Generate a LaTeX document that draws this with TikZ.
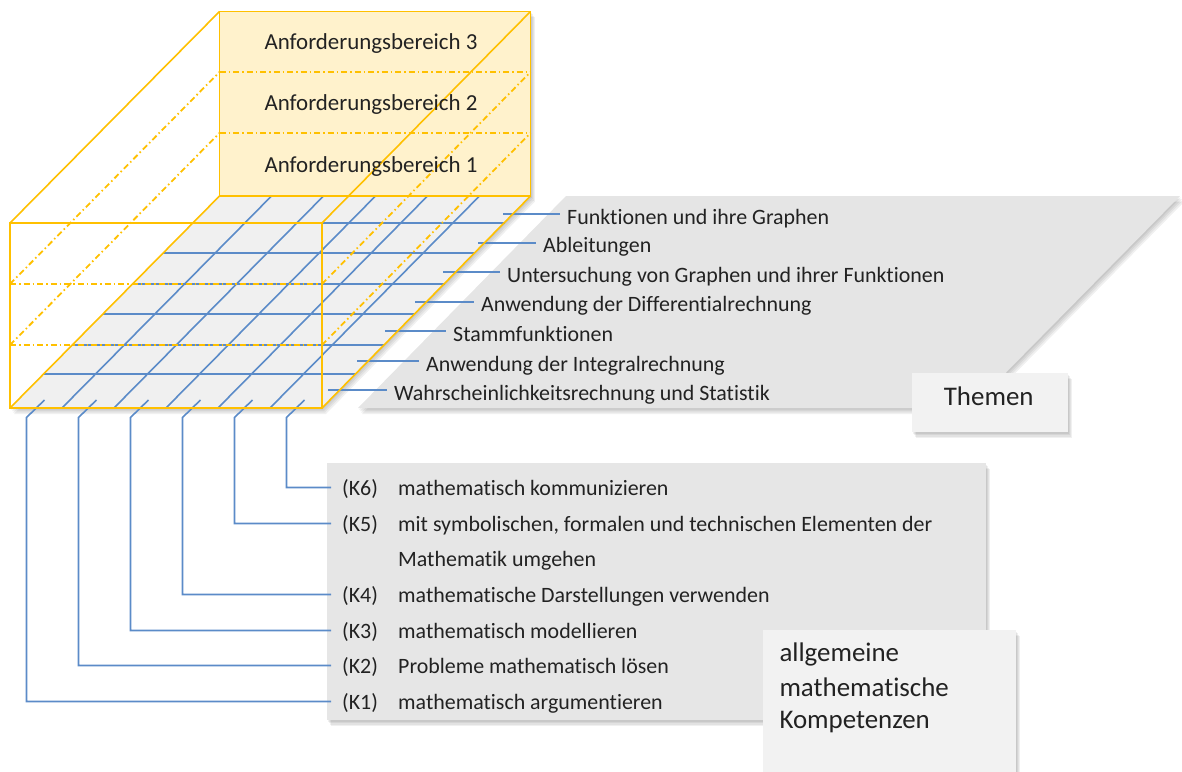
\documentclass[tikz,border=0pt]{standalone}
\usepackage{fontspec}
\setmainfont{Carlito}[Ligatures={NoCommon,NoRare,NoContextual}]
\usetikzlibrary{shadows,calc}
\definecolor{gold}{HTML}{FFC000}
\definecolor{paleyellow}{HTML}{FFF2CC}
\definecolor{gridblue}{HTML}{5B8BC8}
\definecolor{planegray}{HTML}{E5E5E5}
\definecolor{floorgray}{HTML}{F0F0F0}
\definecolor{boxgray}{HTML}{F2F2F2}
\definecolor{kgray}{HTML}{E6E6E6}
\definecolor{txt}{HTML}{222222}
\begin{document}
\begin{tikzpicture}[x=1bp,y=-1bp,
  soft/.style={
    general shadow={fill=black,opacity=.06,shadow xshift=1bp,shadow yshift=-1.5bp},
    general shadow={fill=black,opacity=.06,shadow xshift=2bp,shadow yshift=-3bp},
    general shadow={fill=black,opacity=.06,shadow xshift=3bp,shadow yshift=-4.5bp},
    general shadow={fill=black,opacity=.06,shadow xshift=4bp,shadow yshift=-6bp}},
  gridline/.style={draw=gridblue, line width=1.6bp},
  hgridline/.style={draw=gridblue, line width=1.8bp},
  cubeedge/.style={draw=gold, line width=1.6bp},
  frontedge/.style={draw=gold, line width=2bp},
  dashedge/.style={draw=gold, line width=1.8bp, dash pattern=on 6bp off 3bp on 1.5bp off 3bp},
  topic/.style={anchor=base west, inner xsep=7bp, inner ysep=0pt, text=txt, font=\fontsize{22}{26}\selectfont},
  klab/.style={anchor=base west, inner xsep=11bp, inner ysep=0pt, text height=16bp, text depth=1bp, text=txt, font=\fontsize{22}{26}\selectfont},
  kdesc/.style={anchor=base west, inner sep=0pt, text=txt, font=\fontsize{22}{26}\selectfont},
  ablab/.style={anchor=base, inner sep=0pt, text=txt, font=\fontsize{23}{27}\selectfont},
  bigtext/.style={anchor=base west, inner sep=0pt, text=txt, font=\fontsize{27}{33}\selectfont},
  panel/.style={soft, anchor=north west, inner sep=0pt},
]
\useasboundingbox (0,0) rectangle (1182,772);

% ---- topic plane (grey parallelogram)
\fill[planegray, soft] (566,196) -- (1180,196) -- (971,408) -- (358,408) -- cycle;

% ---- panels
\node[panel, fill=kgray, minimum width=659bp, minimum height=257bp] (kbox) at (327,463) {};
\node[panel, fill=boxgray, minimum width=156bp, minimum height=59bp] (themenbox) at (912,373) {};
\node[panel, fill=boxgray, minimum width=253bp, minimum height=160bp] (agbox) at (763,630) {};

% ---- cube corners
\coordinate (FTL) at (10,223);
\coordinate (FTR) at (322,223);
\coordinate (FBL) at (10,408);
\coordinate (FBR) at (322,408);
\coordinate (BTL) at (219.5,11.5);
\coordinate (BTR) at (530.5,11.5);
\coordinate (BBL) at (219.5,196);
\coordinate (BBR) at (530.5,196);
\coordinate (FD1L) at (10,284);
\coordinate (FD1R) at (322,284);
\coordinate (FD2L) at (10,345);
\coordinate (FD2R) at (322,345);
\coordinate (BD1L) at (219.5,72);
\coordinate (BD1R) at (530.5,72);
\coordinate (BD2L) at (219.5,133);
\coordinate (BD2R) at (530.5,133);

% ---- back face
\fill[paleyellow, soft] (BTL) rectangle (BBR);

% ---- floor
\fill[floorgray, soft] (FBL) -- (FBR) -- (BBR) -- (BBL) -- cycle;

% ---- grid on the floor
\foreach \y in {223,253,284,314,345,374}
  \draw[hgridline] ({10+(408-\y)*0.988},\y) -- ({322+(408-\y)*0.988},\y);
\foreach \k in {1,...,5}
  \draw[gridline] ({10+52*\k},408) -- ({219.5+52*\k},196);

% ---- topic labels and leaders
\coordinate (ls1) at (503,214);
\coordinate (ls2) at (478,243);
\coordinate (ls3) at (443,272);
\coordinate (ls4) at (415,302);
\coordinate (ls5) at (385,331);
\coordinate (ls6) at (357,361);
\coordinate (ls7) at (328,390);
\node[topic] (t1) at (560,224) {Funktionen und ihre Graphen};
\node[topic] (t2) at (536,252) {Ableitungen};
\node[topic] (t3) at (500,282) {Untersuchung von Graphen und ihrer Funktionen};
\node[topic] (t4) at (474,311) {Anwendung der Differentialrechnung};
\node[topic] (t5) at (446,341) {Stammfunktionen};
\node[topic] (t6) at (419,371) {Anwendung der Integralrechnung};
\node[topic] (t7) at (387,400) {Wahrscheinlichkeitsrechnung und Statistik};
\foreach \i in {1,...,7}
  \draw[hgridline] (ls\i) -- (ls\i -| t\i.west);

% ---- competence labels
\node[klab] (k6) at (331,495) {(K6)};
\node[klab] (k5) at (331,531) {(K5)};
\node[klab] (k4) at (331,602) {(K4)};
\node[klab] (k3) at (331,638) {(K3)};
\node[klab] (k2) at (331,673) {(K2)};
\node[klab] (k1) at (331,709) {(K1)};
\node[kdesc] (d6) at (398,495) {mathematisch kommunizieren};
\node[kdesc] (d5) at (398,531) {mit symbolischen, formalen und technischen Elementen der};
\node[kdesc] (d5b) at (398,566.5) {Mathematik umgehen};
\node[kdesc] (d4) at (398,602) {mathematische Darstellungen verwenden};
\node[kdesc] (d3) at (398,638) {mathematisch modellieren};
\node[kdesc] (d2) at (398,673) {Probleme mathematisch lösen};
\node[kdesc] (d1) at (398,709) {mathematisch argumentieren};

% ---- competence connectors
\foreach \k in {1,...,6}{
  \coordinate (kt\k) at ({44.5+52*(\k-1)},400);
  \coordinate (kb\k) at ({26.5+52*(\k-1)},417.5);
  \draw[gridline] (kt\k) -- (kb\k) |- (k\k.west);
}

% ---- cube edges
\draw[cubeedge] (BTL) rectangle (BBR);
\draw[cubeedge] (FTL) -- (BTL);
\draw[cubeedge] (FTR) -- (BTR);
\draw[cubeedge] (FBL) -- (BBL);
\draw[cubeedge] (FBR) -- (BBR);
\draw[dashedge] (BD1L) -- (BD1R);
\draw[dashedge] (BD2L) -- (BD2R);
\draw[dashedge] (FD1L) -- (BD1L);
\draw[dashedge] (FD2L) -- (BD2L);
\draw[dashedge] (FD1R) -- (BD1R);
\draw[dashedge] (FD2R) -- (BD2R);
\draw[dashedge] (FD1L) -- (FD1R);
\draw[dashedge] (FD2L) -- (FD2R);
\draw[frontedge] (FTL) rectangle (FBR);

% ---- Anforderungsbereiche
\node[ablab] (ab3) at (371,50) {Anforderungsbereich 3};
\node[ablab] (ab2) at (371,111) {Anforderungsbereich 2};
\node[ablab] (ab1) at (371,172) {Anforderungsbereich 1};

% ---- box titles
\node[anchor=base, inner sep=0pt, text=txt, font=\fontsize{27}{33}\selectfont] (themen) at (988.7,405) {Themen};
\node[bigtext] (ag1) at (779.3,661.7) {allgemeine};
\node[bigtext] (ag2) at (779.3,696) {mathematische};
\node[bigtext] (ag3) at (779.3,728.3) {Kompetenzen};
\end{tikzpicture}
\end{document}
